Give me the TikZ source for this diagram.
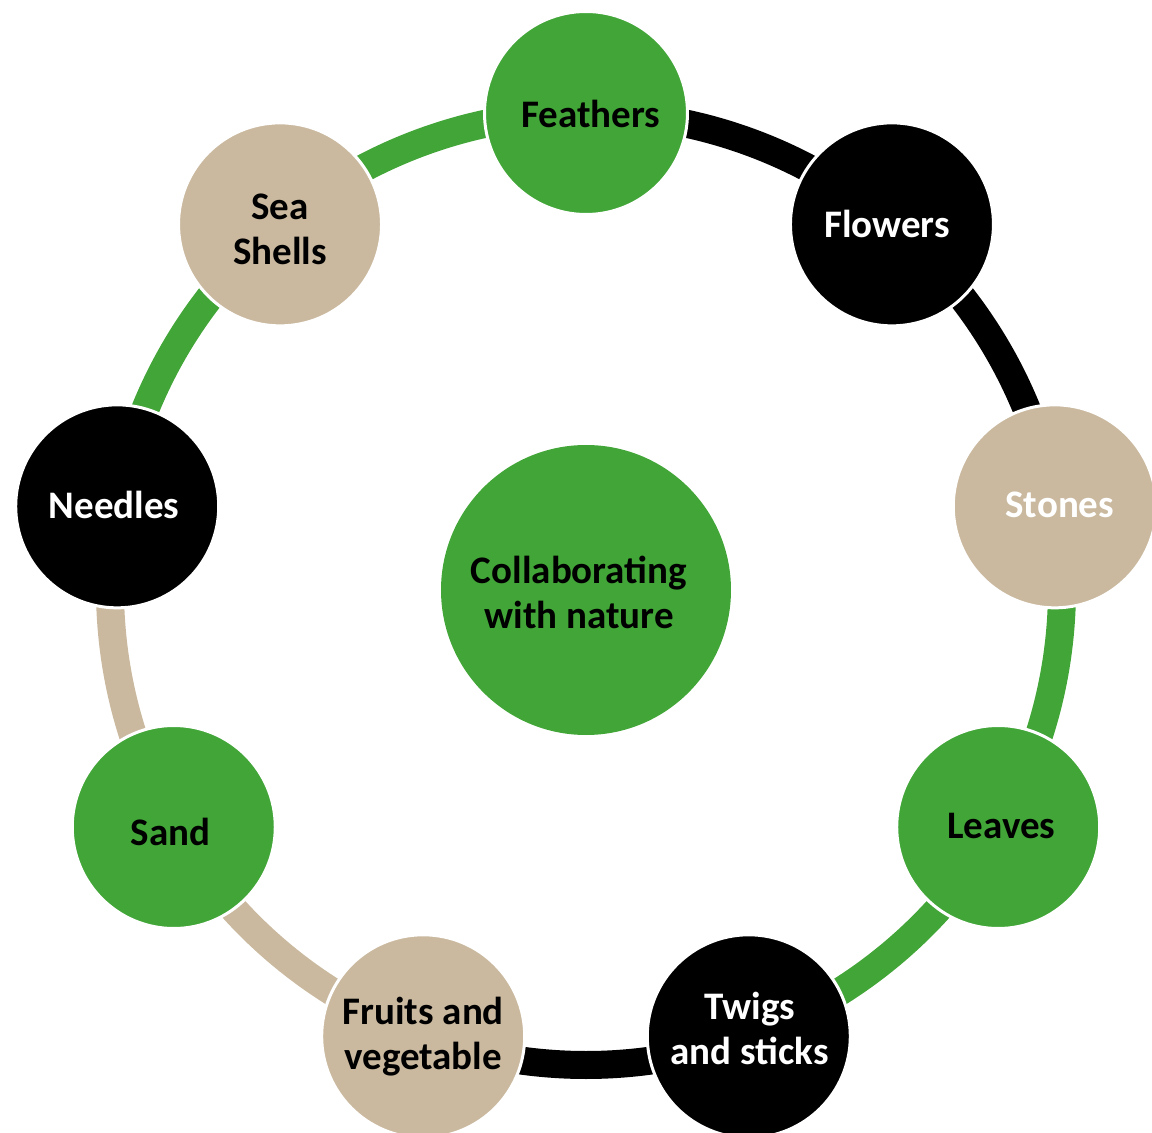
\documentclass[tikz,border=0pt]{standalone}
\usepackage{fontspec}
\setmainfont{Carlito}
\usetikzlibrary{backgrounds}
\definecolor{cgreen}{HTML}{41A637}
\definecolor{ctan}{HTML}{CAB99F}
\begin{document}
\begin{tikzpicture}[x=1pt,y=1pt,
  item/.style={circle, minimum size=203pt, inner sep=0pt, draw=white, line width=3pt},
  bigc/.style={circle, minimum size=290pt, inner sep=0pt, fill=cgreen},
  txt/.style={align=center, inner sep=0pt, font=\fontsize{39}{45}\selectfont\bfseries},
  arcline/.style={line width=28pt}]
\useasboundingbox (-586,-544) rectangle (566,589);
\coordinate (ring) at (0,0);
% circles
\node[bigc] (center) at (0,-1) {};
\node[item, fill=cgreen] (feathers) at (90:476) {};
\node[item, fill=black] (flowers) at (50:476) {};
\node[item, fill=ctan] (stones) at (10:476) {};
\node[item, fill=cgreen] (leaves) at (-30:476) {};
\node[item, fill=black] (twigs) at (-70:476) {};
\node[item, fill=ctan] (fruits) at (-110:476) {};
\node[item, fill=cgreen] (sand) at (-150:476) {};
\node[item, fill=black] (needles) at (170:476) {};
\node[item, fill=ctan] (shells) at (130:476) {};
% texts
\node[txt, text=black] (center-t) at ([shift={(-7,-2)}]center.center) {Collaborating\\with nature};
\node[txt, text=black] (feathers-t) at ([shift={(5,-1)}]feathers.center) {Feathers};
\node[txt, text=white] (flowers-t) at ([shift={(-5,0)}]flowers.center) {Flowers};
\node[txt, text=white] (stones-t) at ([shift={(5,1)}]stones.center) {Stones};
\node[txt, text=black] (leaves-t) at ([shift={(3,1)}]leaves.center) {Leaves};
\node[txt, text=white] (twigs-t) at ([shift={(1,8)}]twigs.center) {Twigs\\and sticks};
\node[txt, text=black] (fruits-t) at ([shift={(0,0)}]fruits.center) {Fruits and\\vegetable};
\node[txt, text=black] (sand-t) at ([shift={(-3,-5)}]sand.center) {Sand};
\node[txt, text=white] (needles-t) at ([shift={(-3,1)}]needles.center) {Needles};
\node[txt, text=black] (shells-t) at ([shift={(0,-5)}]shells.center) {Sea\\Shells};
% ring segments
\begin{scope}[on background layer]
\draw[arcline, black] (feathers.center) arc[start angle=90, end angle=50, radius=476];
\draw[arcline, black] (flowers.center) arc[start angle=50, end angle=10, radius=476];
\draw[arcline, cgreen] (stones.center) arc[start angle=10, end angle=-30, radius=476];
\draw[arcline, cgreen] (leaves.center) arc[start angle=-30, end angle=-70, radius=476];
\draw[arcline, black] (twigs.center) arc[start angle=-70, end angle=-110, radius=476];
\draw[arcline, ctan] (fruits.center) arc[start angle=-110, end angle=-150, radius=476];
\draw[arcline, ctan] (sand.center) arc[start angle=-150, end angle=-190, radius=476];
\draw[arcline, cgreen] (needles.center) arc[start angle=170, end angle=130, radius=476];
\draw[arcline, cgreen] (shells.center) arc[start angle=130, end angle=90, radius=476];
\end{scope}
\end{tikzpicture}
\end{document}
